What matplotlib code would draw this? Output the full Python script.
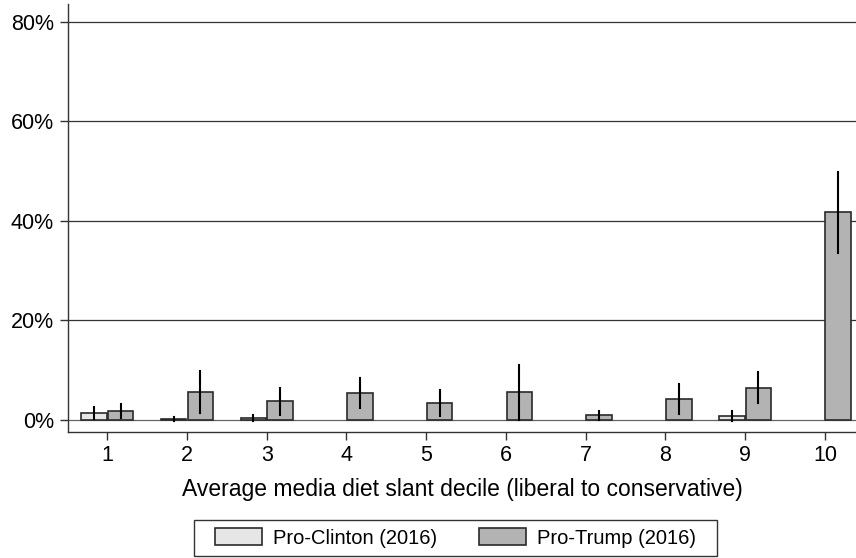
import numpy as np
import matplotlib
matplotlib.use("Agg")
import matplotlib.pyplot as plt
from matplotlib.patches import Rectangle

plt.rcParams['font.family'] = ['Liberation Sans', 'DejaVu Sans']

deciles = [1, 2, 3, 4, 5, 6, 7, 8, 9, 10]
# share (%) and half-width of 95% interval
clinton = [1.35, 0.1, 0.25, 0.0, 0.0, 0.0, 0.0, 0.0, 0.7, 0.0]
clinton_err = [1.25, 0.4, 0.6, 0.0, 0.0, 0.0, 0.0, 0.0, 1.0, 0.0]
trump = [1.7, 5.6, 3.7, 5.4, 3.3, 5.5, 0.9, 4.1, 6.4, 41.7]
trump_err = [1.4, 4.2, 2.7, 3.0, 2.6, 5.6, 0.9, 3.0, 3.1, 8.1]
yticks = [0, 20, 40, 60, 80]

fig = plt.figure(figsize=(8.56, 5.58), dpi=100)
ax = fig.add_axes([0.0794, 0.2258, 0.9206, 0.767])

x = np.array(deciles, dtype=float)
w = 0.32
off = 0.167

for yv in yticks:
    ax.axhline(yv, color='#666666' if yv == 0 else '#333333', lw=0.9, zorder=0)

# zero-valued bars are not drawn in the original
cx = [xi - off for xi, v in zip(x, clinton) if v > 0]
cv = [v for v in clinton if v > 0]
ax.bar(cx, cv, width=w, color='#e6e6e6', edgecolor='#2a2a2a',
       lw=1.2, label='Pro-Clinton (2016)', zorder=2)
ax.bar(x + off, trump, width=w, color='#b3b3b3', edgecolor='#2a2a2a',
       lw=1.2, label='Pro-Trump (2016)', zorder=2)

for xi, v, e in zip(x - off, clinton, clinton_err):
    if e > 0:
        ax.plot([xi, xi], [v - e, v + e], color='black', lw=1.5, zorder=3)
for xi, v, e in zip(x + off, trump, trump_err):
    if e > 0:
        ax.plot([xi, xi], [v - e, v + e], color='black', lw=1.5, zorder=3)

ax.set_xlim(0.507, 10.39)
ax.set_ylim(-2.47, 83.6)
ax.set_xticks(deciles, labels=[str(d) for d in deciles])
ax.set_yticks(yticks, labels=[f"{v}%" for v in yticks])
ax.tick_params(axis='both', labelsize=15.5, length=6, width=1, color='#333333')
ax.tick_params(axis='y', pad=4)
ax.tick_params(axis='x', pad=3)

for s in ['top', 'right']:
    ax.spines[s].set_visible(False)
for s in ['left', 'bottom']:
    ax.spines[s].set_color('#333333')
    ax.spines[s].set_linewidth(1)

ax.set_xlabel("Average media diet slant decile (liberal to conservative)", fontsize=16.5, labelpad=9)

leg = fig.legend(loc='center', bbox_to_anchor=(0.532, 0.0358), ncol=2, fontsize=14.5,
                 frameon=False, handlelength=2.32, handleheight=0.88,
                 columnspacing=2.1, handletextpad=0.55, borderpad=0, borderaxespad=0)
# legend box drawn separately to get the wide inner padding
fig.patches.append(Rectangle((0.2266, 0.0036), 0.611, 0.0645, transform=fig.transFigure,
                             fill=False, edgecolor='#333333', lw=1))

fig.savefig("out.png", dpi=100)
